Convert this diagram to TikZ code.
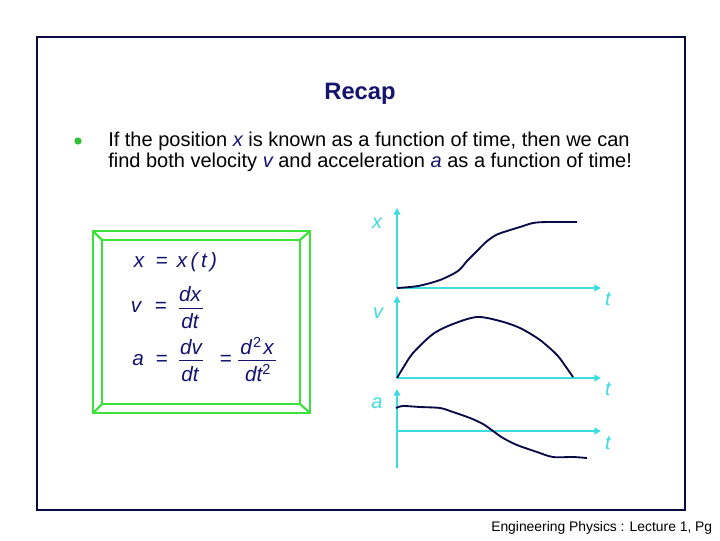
\documentclass[tikz,border=0pt]{standalone}
\usepackage{fontspec}
\setmainfont{Liberation Sans}
\usetikzlibrary{arrows.meta}
\definecolor{navy}{RGB}{20,20,110}
\definecolor{curvec}{RGB}{10,10,70}
\definecolor{cyanax}{RGB}{60,220,225}
\definecolor{greenbox}{RGB}{60,225,60}
\tikzset{
  eq/.style={inner sep=0pt, text=navy, font=\fontsize{15.5}{18}\selectfont\itshape},
  eqop/.style={inner sep=0pt, text=navy, font=\fontsize{15.5}{18}\selectfont},
  fracline/.style={navy, line width=0.6pt},
  axis/.style={cyanax, line width=1.5pt, -{Triangle[length=5pt,width=5pt]}},
  axlab/.style={inner sep=0pt, text=cyanax, font=\fontsize{15}{18}\selectfont\itshape},
  curve/.style={curvec, line width=1.4pt, line join=round},
  gbox/.style={greenbox, line width=1.6pt},
}
\begin{document}
\begin{tikzpicture}[x=0.75pt,y=-0.75pt]
\useasboundingbox (0,0) rectangle (720,540);
\fill[white] (0,0) rectangle (720,540);
% slide frame
\draw[curvec, line width=1.5pt] (37,37) rectangle (685,510);
% title
\node[inner sep=0pt, text=navy, font=\fontsize{17.8}{20}\selectfont\bfseries] (title) at (360,94) {Recap};
% bullet
\fill[greenbox!85!black] (78,141) circle (3.6);
\node[anchor=west, inner sep=0pt, align=left, font=\fontsize{15}{15.8}\selectfont] (body) at (108,152)
  {If the position \textcolor{navy}{\itshape x} is known as a function of time, then we can\\
   find both velocity \textcolor{navy}{\itshape v} and acceleration \textcolor{navy}{\itshape a} as a function of time!};
% green box
\draw[gbox] (93,231) rectangle (310,413);
\draw[gbox] (102,240) rectangle (300,404);
\draw[gbox] (93,231) -- (102,240);
\draw[gbox] (310,231) -- (300,240);
\draw[gbox] (93,413) -- (102,404);
\draw[gbox] (310,413) -- (300,404);
% equations
\node[eq] (x1) at (139,262) {x};
\node[eqop] (e1) at (162,262) {=};
\node[eq] (xt) at (197,262) {x\,(\,t\,)};
\node[eq] (v1) at (136,307) {v};
\node[eqop] (e2) at (161,307) {=};
\node[eq] (dx) at (190,294) {dx};
\draw[fracline] (179,308) -- (203,308);
\node[eq] (dt1) at (190,321) {dt};
\node[eq] (a1) at (138,360) {a};
\node[eqop] (e3) at (162,360) {=};
\node[eq] (dv) at (191,347) {dv};
\draw[fracline] (179,360) -- (203,360);
\node[eq] (dt2) at (190,374) {dt};
\node[eqop] (e4) at (226,360) {=};
\node[eq] (d2x) at (257,346) {d\kern1pt\textsuperscript{\upshape 2}\kern1pt x};
\draw[fracline] (238,360) -- (276,360);
\node[eq] (dt3) at (258,373) {dt\textsuperscript{\upshape 2}};
% graphs
\coordinate (xo) at (397,288);
\coordinate (xtop) at (397,208);
\coordinate (xend) at (601,288);
\draw[axis] (xo) -- (xtop);
\draw[axis] (xo) -- (xend);
\coordinate (vo) at (397,378);
\coordinate (vtop) at (397,296);
\coordinate (vend) at (601,378);
\draw[axis] (vo) -- (vtop);
\draw[axis] (vo) -- (vend);
\coordinate (abot) at (397,468);
\coordinate (atop) at (397,389);
\coordinate (ao) at (397,431);
\coordinate (aend) at (601,431);
\draw[axis] (abot) -- (atop);
\draw[axis] (ao) -- (aend);
\node[axlab] (lx) at (377,223) {x};
\node[axlab] (lt1) at (608,299) {t};
\node[axlab] (lv) at (378,313) {v};
\node[axlab] (lt2) at (608,389) {t};
\node[axlab] (la) at (377,403) {a};
\node[axlab] (lt3) at (608,443) {t};
% curves
\draw[curve] plot[smooth, tension=0.5] coordinates {(397,288) (418,286) (440,280) (458,271) (467,261) (477,251) (486,242) (496,235) (507,231) (520,227) (533,223) (547,222) (577,222)};
\draw[curve] plot[smooth, tension=0.5] coordinates {(397,378) (403,368) (413,353) (433,334) (453,324) (477,317) (500,321) (520,328) (540,340) (557,355) (566,367) (573,377)};
\draw[curve] plot[smooth, tension=0.5] coordinates {(396,408) (403,406) (420,407) (440,408) (453,412) (470,418) (483,424) (493,431) (503,438) (517,445) (537,452) (553,457) (573,457) (587,458)};
% footer
\node[anchor=west, inner sep=0pt, font=\fontsize{10.4}{12}\selectfont] (foot) at (491,528) {Engineering Physics : Lecture 1, Pg};
\end{tikzpicture}
\end{document}
